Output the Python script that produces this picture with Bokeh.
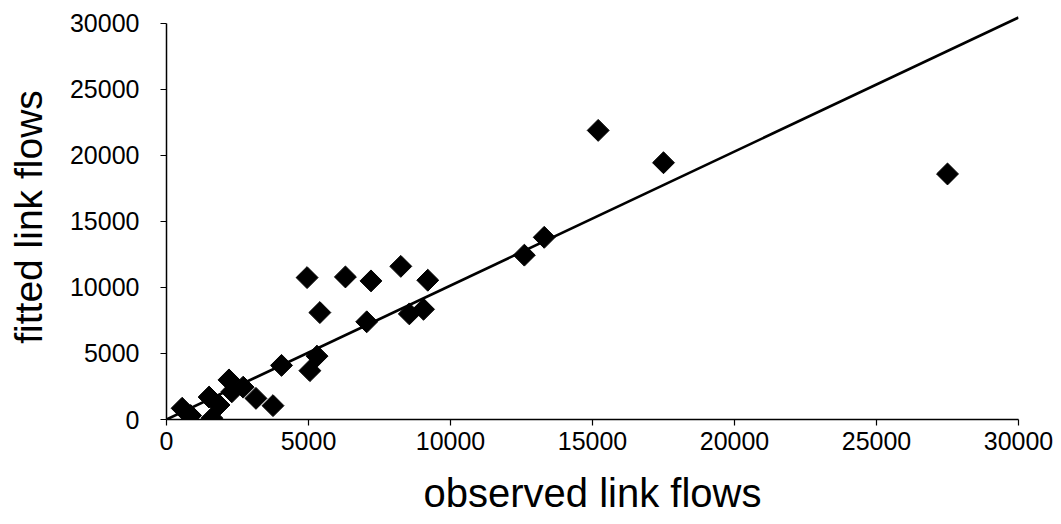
import numpy as np
from bokeh.plotting import figure
from bokeh.models import Range1d, FixedTicker, ColumnDataSource
from bokeh.embed import file_html
from bokeh.resources import INLINE

# Observed vs. fitted link flows (vehicles)
observed = [550, 850, 1600, 1500, 1850, 2200, 2300, 2700, 3150, 3750,
            4050, 5050, 5300, 4950, 6300, 7200, 8250, 9200, 5400, 7050,
            8550, 9050, 12600, 13300, 15200, 17500, 27500]
fitted = [850, 300, 100, 1700, 1100, 3000, 2100, 2450, 1600, 1050,
          4100, 3700, 4800, 10750, 10800, 10500, 11600, 10550, 8100, 7400,
          8000, 8350, 12450, 13800, 21900, 19450, 18600]

# Linear trend through the origin
trend_x = [0, 30000]
trend_slope = 1.015

tick_values = [0, 5000, 10000, 15000, 20000, 25000, 30000]

FONT = "Liberation Sans"

p = figure(width=1061, height=524, output_backend="svg", toolbar_location=None,
           x_range=Range1d(0, 30000), y_range=Range1d(0, 30680),
           min_border_left=166, min_border_right=43,
           min_border_top=14, min_border_bottom=105)

p.background_fill_color = "white"
p.border_fill_color = "white"
p.outline_line_color = None
p.grid.visible = False

src = ColumnDataSource(dict(x=observed, y=fitted))
p.scatter("x", "y", source=src, marker="square", size=15.5, angle=np.pi / 4,
          fill_color="black", line_color="black")

p.line(trend_x, [trend_slope * v for v in trend_x], line_color="black", line_width=2.6)

for ax in (p.xaxis[0], p.yaxis[0]):
    ax.ticker = FixedTicker(ticks=tick_values)
    ax.axis_line_color = "black"
    ax.axis_line_width = 1.5
    ax.major_tick_line_color = "black"
    ax.major_tick_line_width = 1.2
    ax.major_tick_in = 0
    ax.major_tick_out = 6
    ax.minor_tick_line_color = None
    ax.major_label_text_font = FONT
    ax.major_label_text_font_size = "25px"
    ax.major_label_text_color = "black"
    ax.axis_label_text_font = FONT
    ax.axis_label_text_font_style = "normal"
    ax.axis_label_text_color = "black"

p.yaxis.bounds = (0, 30000)

p.xaxis.axis_label = "observed link flows"
p.xaxis.axis_label_text_font_size = "40px"
p.xaxis.major_label_standoff = 6
p.xaxis.axis_label_standoff = 18

p.yaxis.axis_label = "fitted link flows"
p.yaxis.axis_label_text_font_size = "39px"
p.yaxis.major_label_standoff = 21
p.yaxis.axis_label_standoff = 17

open("out.html", "w").write(file_html(p, INLINE))
